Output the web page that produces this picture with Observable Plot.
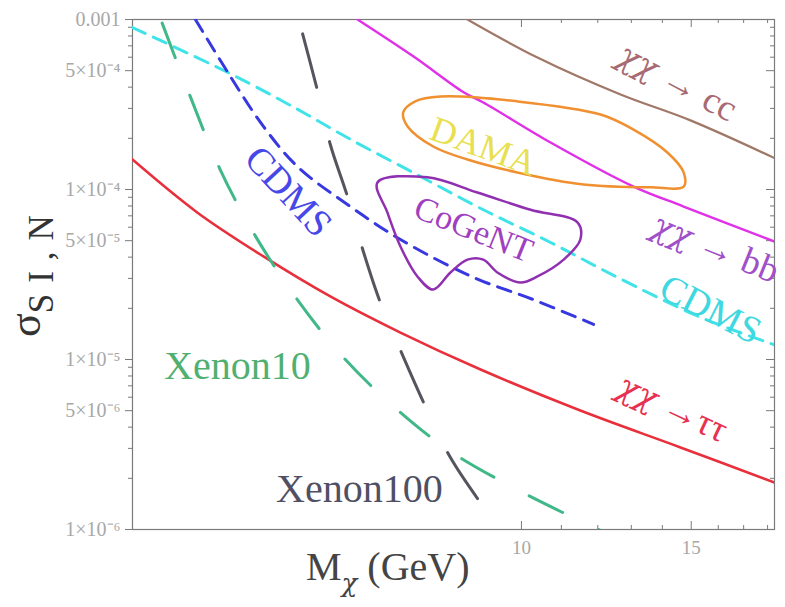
<!DOCTYPE html>
<html>
<head>
<meta charset="utf-8">
<script src="https://cdn.jsdelivr.net/npm/d3@7"></script>
<script src="https://cdn.jsdelivr.net/npm/@observablehq/plot@0.6"></script>
<style>
  html, body { margin: 0; padding: 0; background: #fff; }
  #chart { width: 785px; height: 607px; }
</style>
</head>
<body>
<div id="chart"></div>
<script>
// ---------- axis ticks ----------
const xTickValues = [10, 15];
const xTickLabels = ["10", "15"];
const xMinorTicks = [11, 12, 13, 14, 16, 17, 18];
const yTickValues = [1e-6, 5e-6, 1e-5, 5e-5, 1e-4, 5e-4, 1e-3];
const yTickLabels = ["1×10⁻⁶", "5×10⁻⁶", "1×10⁻⁵", "5×10⁻⁵", "1×10⁻⁴", "5×10⁻⁴", "0.001"];
const yMinorTicks = [2e-6, 3e-6, 4e-6, 6e-6, 7e-6, 8e-6, 9e-6,
                     2e-5, 3e-5, 4e-5, 6e-5, 7e-5, 8e-5, 9e-5,
                     2e-4, 3e-4, 4e-4, 6e-4, 7e-4, 8e-4, 9e-4];

// ---------- curves (M_chi in GeV, sigma_SI,N) ----------
const tauMass  = [3.95, 4.61, 5.40, 6.335, 7.49, 9.07, 11.51, 14.62, 18.3];
const tauSigma = [1.50e-4, 7.33e-5, 4.04e-5, 2.35e-5, 1.44e-5, 8.73e-6, 5.01e-6, 3.04e-6, 1.89e-6];

const bbMass  = [6.76, 7.73, 8.71, 9.13, 10.72, 13.07, 14.73, 18.3];
const bbSigma = [1.0e-3, 6.05e-4, 3.73e-4, 3.25e-4, 1.89e-4, 1.04e-4, 7.94e-5, 4.94e-5];

const ccMass  = [8.79, 10.39, 12.67, 14.97, 18.3];
const ccSigma = [1.0e-3, 5.97e-4, 3.62e-4, 2.55e-4, 1.53e-4];

const cdmsCyanMass  = [3.95, 4.99, 5.86, 6.65, 7.80, 9.13, 10.72, 12.58, 15.34, 18.3];
const cdmsCyanSigma = [8.97e-4, 4.80e-4, 2.96e-4, 1.97e-4, 1.22e-4, 7.6e-5, 4.88e-5, 3.04e-5, 1.77e-5, 1.22e-5];

const cdmsBlueMass  = [4.59, 4.99, 5.40, 5.86, 6.60, 7.49, 8.92, 10.29, 11.88];
const cdmsBlueSigma = [1.0e-3, 4.62e-4, 2.35e-4, 1.36e-4, 8.16e-5, 5.08e-5, 3.04e-5, 2.25e-5, 1.61e-5];

const xenon10Mass  = [4.226, 4.535, 4.87, 5.30, 5.855, 6.535, 7.365, 8.38, 9.67, 11.16, 12.08];
const xenon10Sigma = [1.0e-3, 3.52e-4, 1.31e-4, 5.3e-5, 2.25e-5, 1.03e-5, 5.3e-6, 2.96e-6, 1.84e-6, 1.22e-6, 0.986e-6];

const xenon100Mass  = [5.87, 6.14, 6.335, 6.60, 6.855, 7.14, 7.54, 7.95, 8.44, 9.02];
const xenon100Sigma = [1.02e-3, 3.87e-4, 1.84e-4, 9.1e-5, 4.32e-5, 2.16e-5, 1.04e-5, 5.3e-6, 2.65e-6, 1.5e-6];

// ---------- closed regions ----------
const damaMass  = [7.54, 7.76, 8.24, 9.90, 12.08, 13.07, 14.17, 14.73, 14.73, 13.61, 11.60, 9.90, 8.79, 8.10, 7.62];
const damaSigma = [2.84e-4, 3.30e-4, 3.52e-4, 3.30e-4, 2.76e-4, 2.25e-4, 1.65e-4, 1.26e-4, 1.04e-4, 1.03e-4, 1.07e-4, 1.26e-4, 1.50e-4, 1.79e-4, 2.35e-4];

const cogentMass  = [7.09, 7.99, 9.00, 10.22, 11.43, 11.51, 11.06, 10.39, 9.98, 9.44, 9.13, 8.79, 8.44, 8.10, 7.80, 7.49, 7.26];
const cogentSigma = [1.10e-4, 1.18e-4, 9.6e-5, 7.6e-5, 6.4e-5, 5.08e-5, 3.87e-5, 3.08e-5, 2.84e-5, 3.25e-5, 3.87e-5, 3.87e-5, 3.25e-5, 2.58e-5, 3.08e-5, 4.62e-5, 7.33e-5];

// ---------- in-plot labels ----------
const labelText  = ["χχ → cc", "χχ → bb", "CDMS", "CDMS", "DAMA", "CoGeNT", "Xenon10", "Xenon100", "χχ →ττ"];
const labelMass  = [14.52, 15.9, 15.71, 5.73, 9.13, 8.92, 5.075, 6.79, 14.35];
const labelSigma = [4.31e-4, 4.56e-5, 1.97e-5, 9.73e-5, 1.79e-4, 5.82e-5, 9.1e-6, 1.72e-6, 5.22e-6];

// ---------- build ----------
const rows = (ms, ss) => ms.map((m, i) => ({m, s: ss[i]}));
const font = "'Liberation Serif', 'Times New Roman', serif";
const chiFont = "'DejaVu Serif', serif";

const lineStyles = [
  {m: tauMass, s: tauSigma, stroke: "#e8303c", w: 2.6},
  {m: bbMass, s: bbSigma, stroke: "#e030e8", w: 2.4},
  {m: ccMass, s: ccSigma, stroke: "#a07868", w: 2.2},
  {m: cdmsCyanMass, s: cdmsCyanSigma, stroke: "#40e4e8", w: 3, dash: "14,9"},
  {m: cdmsBlueMass, s: cdmsBlueSigma, stroke: "#3838e0", w: 3, dash: "14,9"},
  {m: xenon10Mass, s: xenon10Sigma, stroke: "#40b888", w: 3, dash: "37,40", off: 73},
  {m: xenon100Mass, s: xenon100Sigma, stroke: "#55555f", w: 3, dash: "55,56", off: 94.5}
];
const loopStyles = [
  {m: damaMass, s: damaSigma, stroke: "#f09030", w: 2.5},
  {m: cogentMass, s: cogentSigma, stroke: "#9030b0", w: 2.5}
];
const labelStyles = [
  {a: 28, c: "#a86a72", f: 37},
  {a: 22, c: "#a050c8", f: 37},
  {a: 27, c: "#40d8e0", f: 38},
  {a: 47, c: "#4848e8", f: 38},
  {a: 20, c: "#e8e050", f: 36},
  {a: 22, c: "#a040c0", f: 34},
  {a: 0,  c: "#50b070", f: 40},
  {a: 0,  c: "#505064", f: 40},
  {a: 25, c: "#e83050", f: 37}
];

const marks = [];
marks.push(Plot.frame({stroke: "#7a7a7a", strokeWidth: 1.2}));

// frame ticks: outward on the left, inward on the other three sides
const FW = 785 - 132 - 11, FH = 607 - 19 - 78;
const tickColor = "#7a7a7a";
marks.push(Plot.axisY(yTickValues, {anchor: "left", tickSize: 7, tickFormat: () => "", label: null, stroke: tickColor}));
marks.push(Plot.axisY(yMinorTicks, {anchor: "left", tickSize: 4, tickFormat: () => "", label: null, stroke: tickColor}));
marks.push(Plot.tickY(yTickValues, {y: d => d, insetLeft: FW - 8, stroke: tickColor}));
marks.push(Plot.tickY(yMinorTicks, {y: d => d, insetLeft: FW - 4, stroke: tickColor}));
marks.push(Plot.tickX(xTickValues, {x: d => d, insetTop: FH - 8, stroke: tickColor}));
marks.push(Plot.tickX(xMinorTicks, {x: d => d, insetTop: FH - 4, stroke: tickColor}));
marks.push(Plot.tickX(xTickValues, {x: d => d, insetBottom: FH - 8, stroke: tickColor}));
marks.push(Plot.tickX(xMinorTicks, {x: d => d, insetBottom: FH - 4, stroke: tickColor}));

for (const L of lineStyles) {
  marks.push(Plot.line(rows(L.m, L.s), {
    x: "m", y: "s", stroke: L.stroke, strokeWidth: L.w,
    strokeDasharray: L.dash, strokeDashoffset: L.off,
    curve: "catmull-rom", clip: true
  }));
}
for (const L of loopStyles) {
  marks.push(Plot.line(rows(L.m, L.s), {
    x: "m", y: "s", stroke: L.stroke, strokeWidth: L.w,
    curve: "catmull-rom-closed", clip: true
  }));
}
labelText.forEach((t, i) => {
  const st = labelStyles[i];
  marks.push(Plot.text([i], {
    x: j => labelMass[j], y: j => labelSigma[j], text: j => labelText[j],
    rotate: st.a, fill: st.c, fontSize: st.f, fontFamily: font,
    textAnchor: "middle", lineAnchor: "middle"
  }));
});

// tick labels
marks.push(Plot.text(yTickValues, {
  y: d => d, text: (d, i) => yTickLabels[i], frameAnchor: "left", dx: -12,
  textAnchor: "end", lineAnchor: "middle", fill: "#a8a8a8", fontSize: 20, fontFamily: font
}));
marks.push(Plot.text(xTickValues, {
  x: d => d, text: (d, i) => xTickLabels[i], frameAnchor: "bottom", dy: 18,
  lineAnchor: "middle", fill: "#a8a8a8", fontSize: 19, fontFamily: font
}));

const chart = Plot.plot({
  width: 785,
  height: 607,
  marginTop: 19,
  marginLeft: 132,
  marginRight: 11,
  marginBottom: 78,
  style: {fontFamily: font, background: "#fff", overflow: "visible"},
  x: {type: "log", domain: [3.95, 18.3], label: null, axis: null},
  y: {type: "log", domain: [1e-6, 1e-3], label: null},
  marks
});

const svg = d3.select(chart);

// italic chi in the annihilation-channel labels
svg.selectAll("text").filter(function () { return this.textContent.startsWith("χχ"); })
  .each(function () {
    const t = d3.select(this);
    const rest = this.textContent.slice(2);
    t.text("");
    t.append("tspan").attr("font-style", "italic").attr("font-family", chiFont)
      .attr("font-size", "0.9em").text("χχ");
    t.append("tspan").text(rest);
  });

// axis titles with sub-scripts
const yTitle = svg.append("text")
  .attr("transform", "translate(40,337) rotate(-90)")
  .attr("text-anchor", "start")
  .attr("font-family", font).attr("fill", "#333");
yTitle.append("tspan").attr("font-size", 44).text("σ");
yTitle.append("tspan").attr("font-size", 35).attr("dy", 13).attr("letter-spacing", 11).text("SI,N");

const xTitle = svg.append("text")
  .attr("x", 306).attr("y", 580)
  .attr("text-anchor", "start")
  .attr("font-family", font).attr("fill", "#444");
xTitle.append("tspan").attr("font-size", 40).text("M");
xTitle.append("tspan").attr("font-size", 26).attr("font-style", "italic")
  .attr("font-family", chiFont).attr("dy", 12).text("χ");
xTitle.append("tspan").attr("font-size", 40).attr("dy", -12).text(" (GeV)");

document.getElementById("chart").appendChild(chart);
</script>
</body>
</html>
